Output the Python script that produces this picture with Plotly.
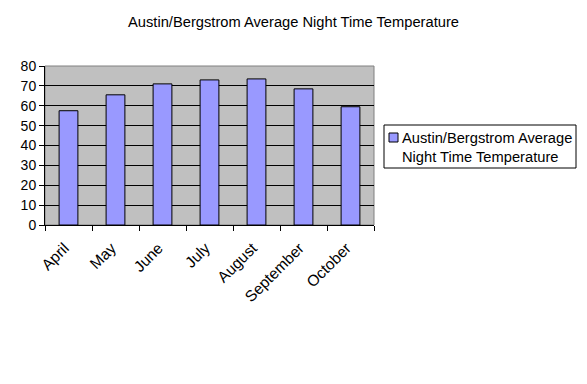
import plotly.graph_objects as go

months = ["April", "May", "June", "July", "August", "September", "October"]
temps = [57.5, 65.5, 71, 73, 73.5, 68.5, 59.5]
series_name = "Austin/Bergstrom Average<br>Night Time Temperature"
title = "Austin/Bergstrom Average Night Time Temperature"

font = "Liberation Sans, Arial, sans-serif"
bar_color = "#9999FF"

L, R, T, B = 45, 374, 66, 225
W, H = R - L, B - T

def px(x):
    return (x - L) / W

def py(y):
    return (B - y) / H

fig = go.Figure()
fig.add_trace(go.Bar(
    x=months, y=temps, name=series_name,
    marker=dict(color=bar_color, line=dict(color="black", width=1)),
    showlegend=False,
))

fig.update_layout(
    width=587, height=384,
    margin=dict(l=L, r=587 - R, t=T, b=384 - B),
    paper_bgcolor="white", plot_bgcolor="#C0C0C0",
    font=dict(family=font, size=14, color="black"),
    title=dict(text=title, x=0.5, xref="container", xanchor="center",
               y=1 - 22 / 384, yref="container", yanchor="middle",
               font=dict(size=14.7)),
    bargap=0.6,
    showlegend=False,
    shapes=[
        dict(type="rect", xref="paper", yref="paper", x0=0, x1=1, y0=0, y1=1,
             line=dict(color="#808080", width=1), layer="below"),
        # legend box
        dict(type="rect", xref="paper", yref="paper", x0=px(384), x1=px(576),
             y0=py(168), y1=py(125), line=dict(color="black", width=1),
             fillcolor="white"),
        # legend swatch
        dict(type="rect", xref="paper", yref="paper", x0=px(389), x1=px(398),
             y0=py(142), y1=py(133), line=dict(color="black", width=1),
             fillcolor=bar_color),
    ],
    annotations=[
        dict(text=series_name, xref="paper", yref="paper", x=px(400), y=py(147),
             xanchor="left", yanchor="middle", align="left", showarrow=False,
             font=dict(size=14.7)),
    ],
)
fig.update_xaxes(type="category", tickson="boundaries", ticks="outside", ticklen=5,
                 tickcolor="black", showline=True, linecolor="black", linewidth=1,
                 tickangle=-45, tickfont=dict(size=15.5), showgrid=False,
                 ticklabelstandoff=7, ticklabelshift=-4)
fig.update_yaxes(range=[0, 80], dtick=10, ticks="outside", ticklen=5, tickcolor="black",
                 showline=True, linecolor="black", linewidth=1, showgrid=True,
                 gridcolor="black", gridwidth=1, tickfont=dict(size=14), zeroline=False)

fig.write_html("out.html")
